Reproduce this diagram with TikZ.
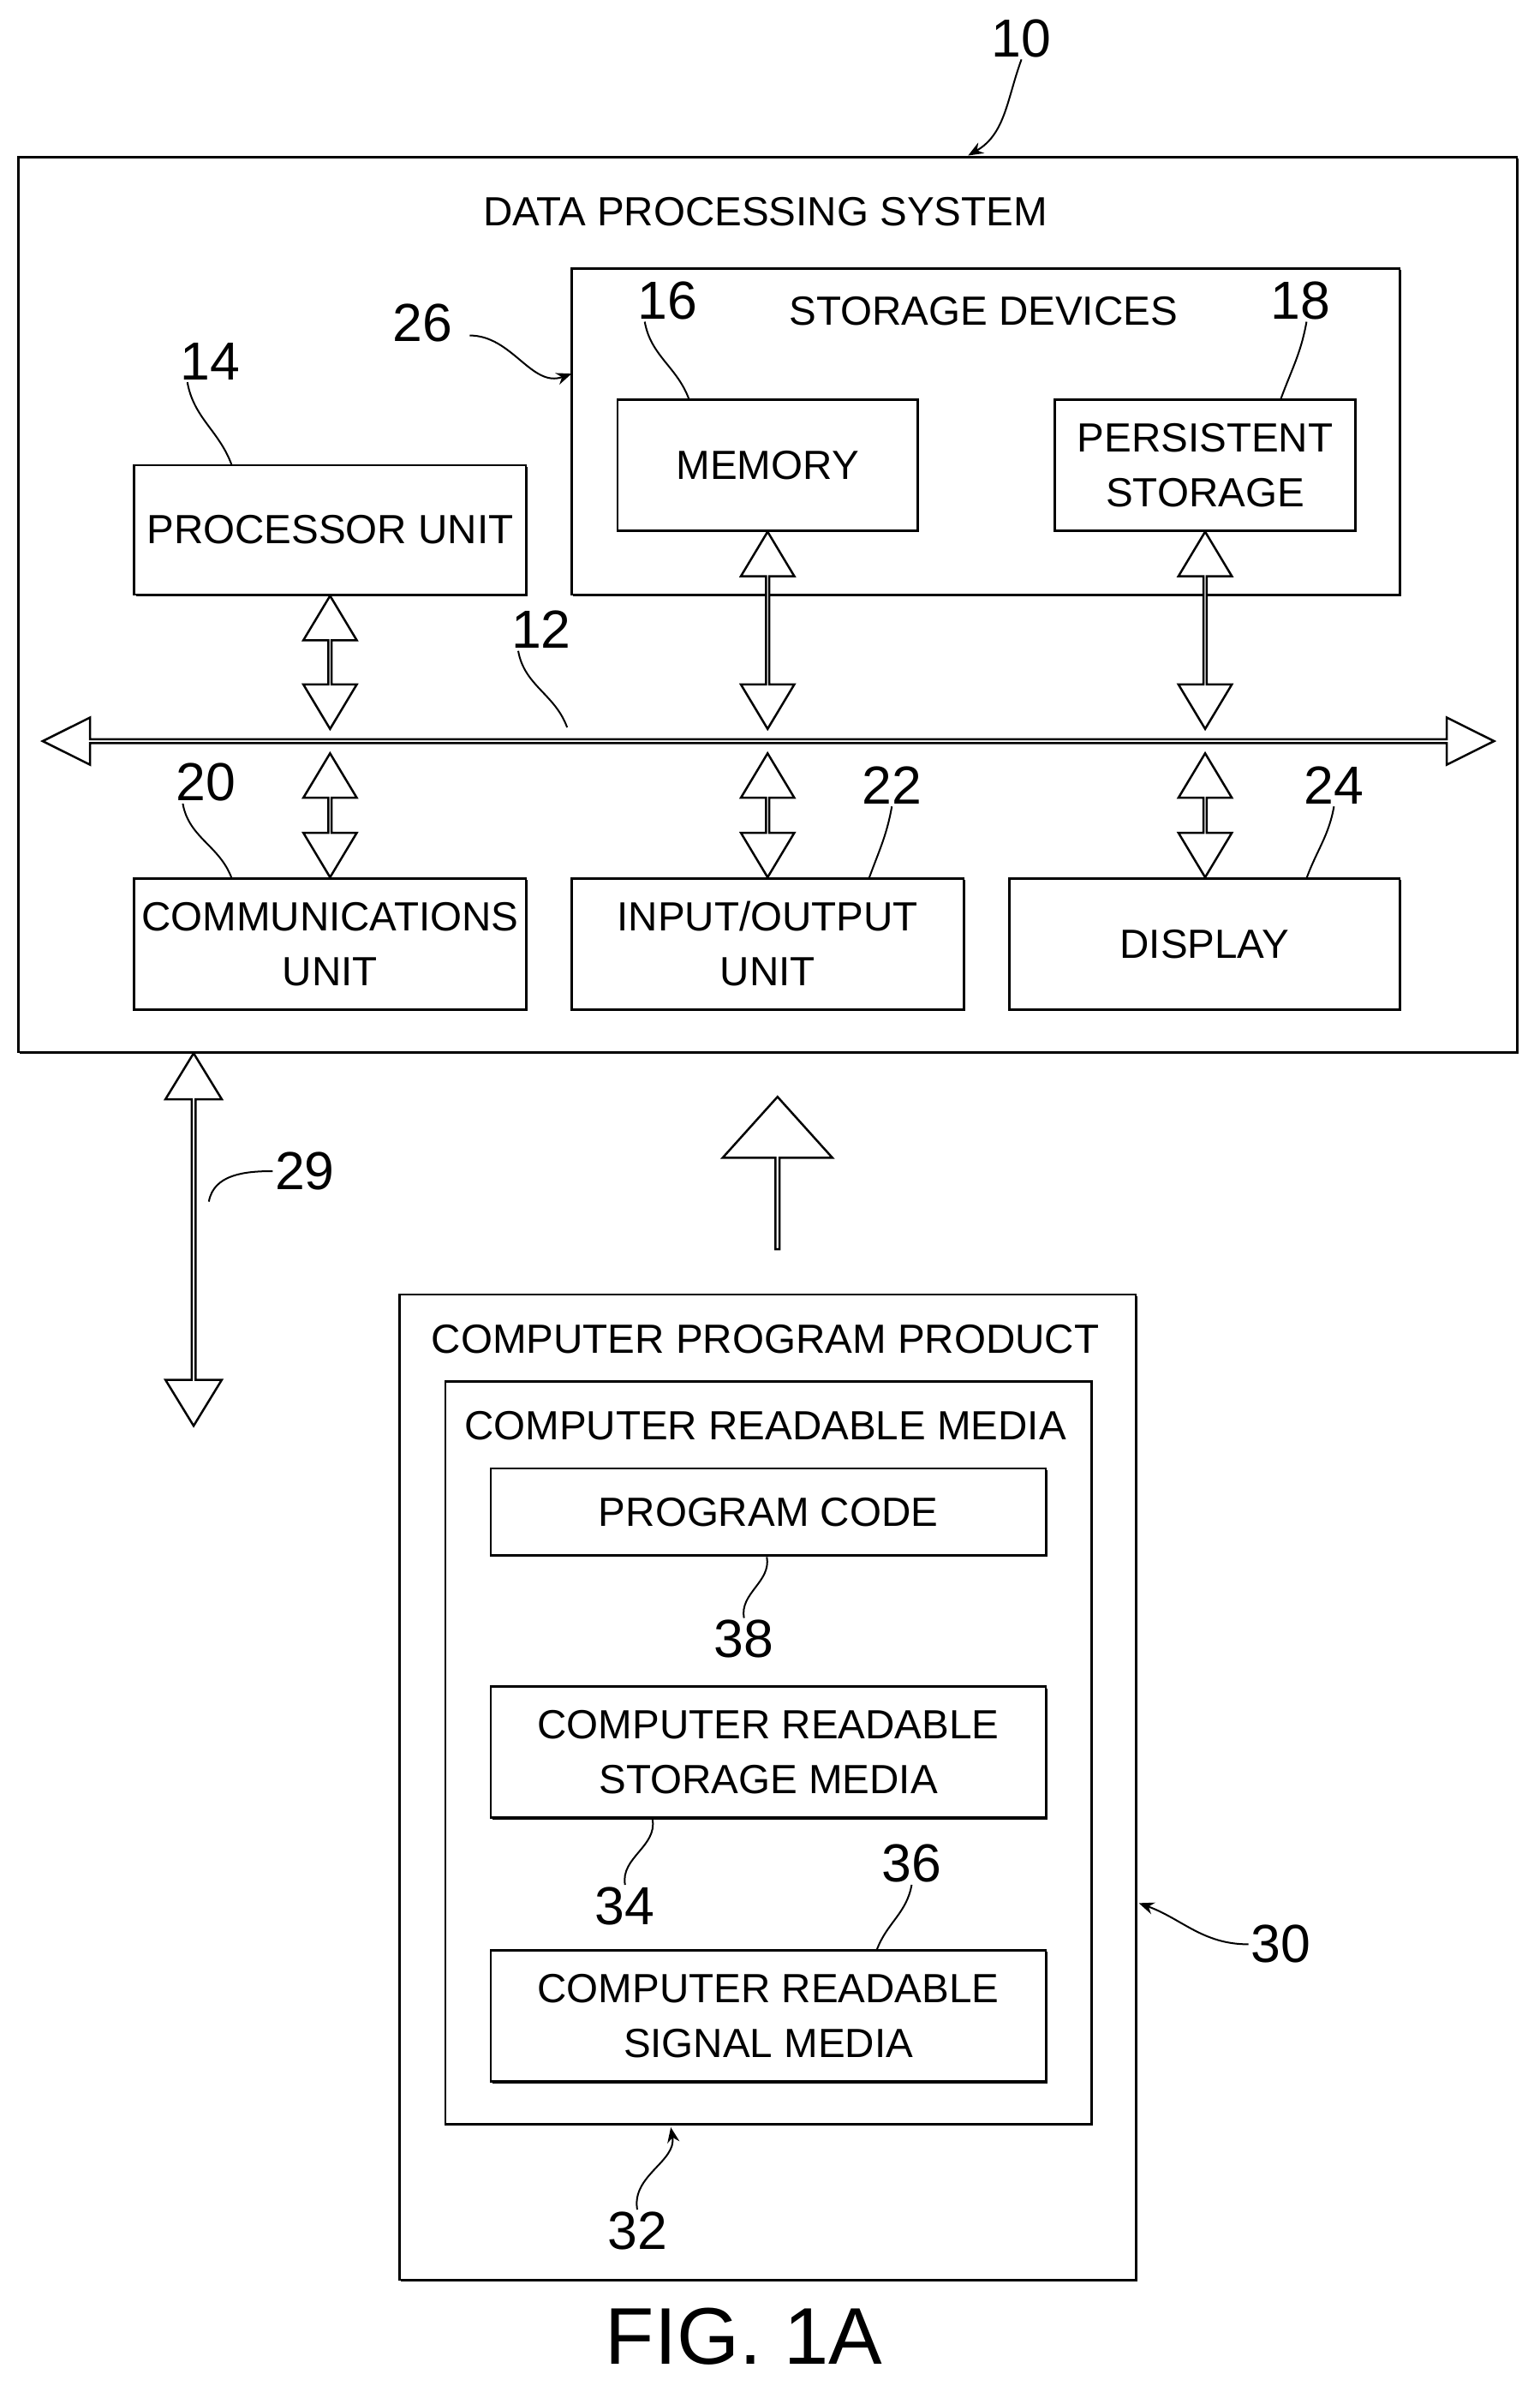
\documentclass[tikz,border=0pt]{standalone}
\usepackage{fontspec}
\setmainfont{Liberation Sans}
\usetikzlibrary{arrows.meta}
\usetikzlibrary{calc}
\usetikzlibrary{shapes.arrows}
\usetikzlibrary{shadows}
\usetikzlibrary{positioning}
\tikzset{>=Stealth}

\begin{document}
\begin{tikzpicture}[
        x=0.05cm, y=-0.05cm,
        box/.style={draw, line width=2pt, fill=white, inner sep=0pt,
            drop shadow={shadow xshift=1.5pt, shadow yshift=-1.5pt, fill=black, opacity=1},
            align=center, font=\fontsize{38}{51}\selectfont},
        title/.style={font=\fontsize{38}{51}\selectfont},
        num/.style={font=\fontsize{50}{60}\selectfont, inner sep=2pt},
        lead/.style={line width=1.6pt},
        leadarrow/.style={line width=1.6pt, -{Stealth[length=5mm, width=4mm]}},
        buslink/.style={double arrow, draw, line width=2pt, fill=white, inner sep=0pt, outer sep=0pt,
            minimum width=1.75cm, double arrow head extend=0.55cm, double arrow tip angle=62},
        mainbus/.style={buslink, minimum width=1.55cm, double arrow head extend=0.4cm, double arrow tip angle=53},
        extlink/.style={buslink, minimum width=1.85cm, double arrow head extend=0.475cm, double arrow tip angle=63}
    ]

    \useasboundingbox (0,0) rectangle (1010,1568.6);

    %=== Macro for the wide arrows ===%
    % #1 = from, #2 = to, #3 = style
    \newcommand{\fatlink}[3]{
        \path let \p1=(#1), \p2=(#2),
            \n1={veclen(\x2-\x1,\y2-\y1)}, \n2={atan2(\y2-\y1,\x2-\x1)} in
            node[#3, minimum height=\n1, rotate=\n2] at ($(\p1)!0.5!(\p2)$) {};
    }

    %=== Data processing system ===%
    \node[box, minimum width=49.15cm, minimum height=29.35cm] (dps) at (503.5,396.5) {};
    \node[title] (dpsT) at (502,139) {DATA PROCESSING SYSTEM};

    \node[box, minimum width=27.15cm, minimum height=10.7cm] (stor) at (646.5,283) {};
    \node[title] (storT) at (645,204) {STORAGE DEVICES};
    \node[box, minimum width=9.85cm, minimum height=4.3cm] (mem) at (503.5,305) {MEMORY};
    \node[box, minimum width=9.85cm, minimum height=4.3cm] (pers) at (790.5,305) {PERSISTENT\\STORAGE};

    \node[box, minimum width=12.85cm, minimum height=4.25cm] (proc) at (216.5,347.5) {PROCESSOR UNIT};
    \node[box, minimum width=12.85cm, minimum height=4.3cm] (comm) at (216.5,619) {COMMUNICATIONS\\UNIT};
    \node[box, minimum width=12.85cm, minimum height=4.3cm] (io) at (503.5,619) {INPUT/OUTPUT\\UNIT};
    \node[box, minimum width=12.8cm, minimum height=4.3cm] (disp) at (790,619) {DISPLAY};

    % Bus
    \coordinate (busL) at (28,486);
    \coordinate (busR) at (980,486);
    \fatlink{busL}{busR}{mainbus}
    \coordinate (busT1) at (proc.south |- 0,478);
    \coordinate (busT2) at (mem.south |- 0,478);
    \coordinate (busT3) at (pers.south |- 0,478);
    \coordinate (busB1) at (comm.north |- 0,494);
    \coordinate (busB2) at (io.north |- 0,494);
    \coordinate (busB3) at (790.5,494);
    \coordinate (dispT) at (disp.north -| busB3);
    \fatlink{proc.south}{busT1}{buslink}
    \fatlink{mem.south}{busT2}{buslink}
    \fatlink{pers.south}{busT3}{buslink}
    \fatlink{busB1}{comm.north}{buslink}
    \fatlink{busB2}{io.north}{buslink}
    \fatlink{busB3}{dispT}{buslink}

    % External link and transfer arrow
    \coordinate (extT) at (dps.south -| 127,0);
    \coordinate (extB) at (127,935);
    \fatlink{extT}{extB}{extlink}

    %=== Computer program product ===%
    \node[box, minimum width=24.15cm, minimum height=32.3cm] (cpp) at (503.5,1172) {};
    \node[title] (cppT) at (502,878) {COMPUTER PROGRAM PRODUCT};
    \node[box, minimum width=21.2cm, minimum height=24.35cm] (crm) at (504,1149.5) {};
    \node[title] (crmT) at (502,935) {COMPUTER READABLE MEDIA};
    \node[box, minimum width=18.2cm, minimum height=2.85cm] (code) at (504,991.5) {PROGRAM CODE};
    \node[box, minimum width=18.2cm, minimum height=4.3cm] (stm) at (504,1149) {COMPUTER READABLE\\STORAGE MEDIA};
    \node[box, minimum width=18.2cm, minimum height=4.3cm] (sig) at (504,1322) {COMPUTER READABLE\\SIGNAL MEDIA};

    \coordinate (upB) at (510,820);
    \coordinate (upT) at (510,720);
    \path let \p1=(upB), \p2=(upT) in
        node[single arrow, draw, line width=2pt, fill=white, inner sep=0pt, outer sep=0pt,
            minimum width=3.6cm, single arrow head extend=0.9cm, single arrow tip angle=84,
            minimum height=5cm, rotate=90] (up) at ($(\p1)!0.5!(\p2)$) {};

    %=== Reference numerals ===%
    \node[num] (n10) at (670,25) {10};
    \node[num] (n26) at (277,212) {26};
    \node[num] (n16) at (438,197) {16};
    \node[num] (n18) at (853,197) {18};
    \node[num] (n14) at (138,237) {14};
    \node[num] (n12) at (355,413) {12};
    \node[num] (n20) at (135,513) {20};
    \node[num] (n22) at (585,515) {22};
    \node[num] (n24) at (875,515) {24};
    \node[num] (n29) at (200,768) {29};
    \node[num] (n30) at (840,1275) {30};
    \node[num] (n32) at (418,1463) {32};
    \node[num] (n38) at (488,1075) {38};
    \node[num] (n34) at (410,1250) {34};
    \node[num] (n36) at (598,1222) {36};
    \node[font=\fontsize{75}{80}\selectfont] (fig) at (488,1532) {FIG. 1A};

    % Leaders
    \draw[leadarrow] (n10.south) to[out=-110, in=30] (635,102);
    \draw[leadarrow] (n26.east) ++(10,8) to[out=0, in=200] (375,245);
    \draw[lead] (n16.south west) ++(6,0) to[out=-80, in=110] (452,262);
    \draw[lead] (n18.south) ++(4,0) to[out=-100, in=70] (840,262);
    \draw[lead] (n14.south west) ++(6,0) to[out=-80, in=110] (152,305);
    \draw[lead] (n12.south west) ++(6,0) to[out=-80, in=110] (372,477);
    \draw[lead] (n20.south west) ++(6,0) to[out=-80, in=110] (152,576);
    \draw[lead] (n22.south) to[out=-100, in=70] (570,576);
    \draw[lead] (n24.south) to[out=-100, in=70] (857,576);
    \draw[lead] (n29.west) to[out=180, in=80] (137,788);
    \draw[leadarrow] (n30.west) to[out=180, in=-20] (747,1248);
    \draw[leadarrow] (n32.north) to[out=100, in=-80] (440,1395);
    \draw[lead] (n38.north) to[out=100, in=-80] (503,1021);
    \draw[lead] (n34.north) to[out=100, in=-80] (428,1193);
    \draw[lead] (n36.south) to[out=-100, in=70] (575,1279);

\end{tikzpicture}
\end{document}
